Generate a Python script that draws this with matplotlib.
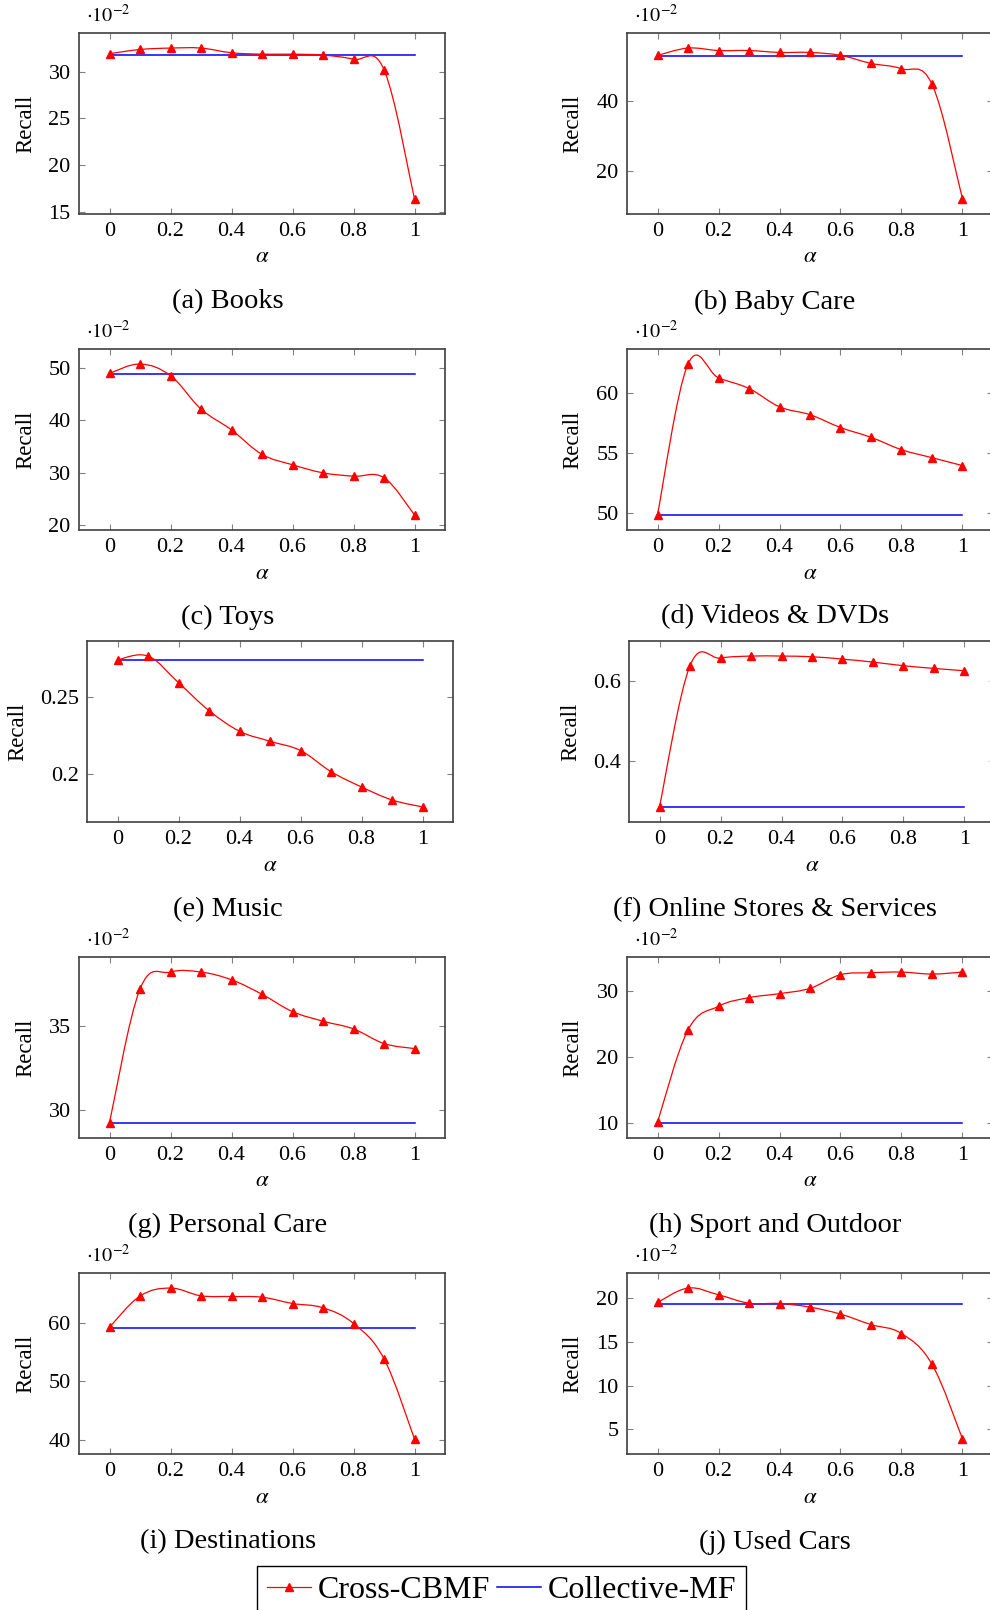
import matplotlib
matplotlib.use('Agg')
import matplotlib.pyplot as plt
from matplotlib.path import Path
from matplotlib.patches import PathPatch
from matplotlib.lines import Line2D

plt.rcParams['font.family'] = ['Liberation Serif', 'DejaVu Serif']
plt.rcParams['mathtext.fontset'] = 'stix'

# data (most panels are in units of 1e-2)
alpha = [0.0, 0.1, 0.2, 0.3, 0.4, 0.5, 0.6, 0.7, 0.8, 0.9, 1.0]
x_ticks = [0.0, 0.2, 0.4, 0.6, 0.8, 1.0]
x_ticklabels = ['0', '0.2', '0.4', '0.6', '0.8', '1']

books_cross = [31.9, 32.35, 32.5, 32.5, 32.0, 31.85, 31.85, 31.75, 31.3, 30.2, 16.4]
books_coll = 31.8
baby_cross = [53.2, 55.3, 54.6, 54.6, 54.05, 54.05, 53.2, 50.9, 49.35, 44.9, 11.9]
baby_coll = 53.0
toys_cross = [49.04, 50.83, 48.6, 42.2, 38.2, 33.5, 31.5, 29.95, 29.3, 29.0, 21.87]
toys_coll = 48.9
videos_cross = [49.83, 62.4, 61.25, 60.36, 58.83, 58.17, 57.1, 56.28, 55.25, 54.58, 53.92]
videos_coll = 49.8
music_cross = [0.2739, 0.2763, 0.2591, 0.2411, 0.2278, 0.2213, 0.2153, 0.2017, 0.1918, 0.1834, 0.1789]
music_coll = 0.2735
online_cross = [0.2845, 0.6386, 0.6578, 0.6628, 0.6628, 0.6611, 0.6552, 0.6477, 0.6386, 0.6318, 0.626]
online_coll = 0.284
personal_cross = [29.25, 37.19, 38.2, 38.2, 37.74, 36.88, 35.85, 35.28, 34.82, 33.95, 33.65]
personal_coll = 29.23
sport_cross = [10.15, 24.06, 27.64, 28.94, 29.55, 30.35, 32.4, 32.7, 32.8, 32.5, 32.8]
sport_coll = 10.05
dest_cross = [59.2, 64.49, 65.85, 64.54, 64.42, 64.3, 63.23, 62.5, 59.83, 53.83, 40.22]
dest_coll = 59.1
cars_cross = [19.54, 21.19, 20.42, 19.46, 19.42, 19.0, 18.2, 17.0, 15.97, 12.44, 3.88]
cars_coll = 19.42

titles = ['(a) Books', '(b) Baby Care', '(c) Toys', '(d) Videos & DVDs', '(e) Music',
          '(f) Online Stores & Services', '(g) Personal Care', '(h) Sport and Outdoor',
          '(i) Destinations', '(j) Used Cars']
cross = [books_cross, baby_cross, toys_cross, videos_cross, music_cross,
         online_cross, personal_cross, sport_cross, dest_cross, cars_cross]
coll = [books_coll, baby_coll, toys_coll, videos_coll, music_coll,
        online_coll, personal_coll, sport_coll, dest_coll, cars_coll]
scaled = [True, True, True, True, False, False, True, True, True, True]
y_ticks = [[15, 20, 25, 30], [20, 40], [20, 30, 40, 50], [50, 55, 60], [0.2, 0.25],
           [0.4, 0.6], [30, 35], [10, 20, 30], [40, 50, 60], [5, 10, 15, 20]]
y_ticklabels = [['15', '20', '25', '30'], ['20', '40'], ['20', '30', '40', '50'],
                ['50', '55', '60'], ['0.2', '0.25'], ['0.4', '0.6'], ['30', '35'],
                ['10', '20', '30'], ['40', '50', '60'], ['5', '10', '15', '20']]

W, H = 990, 1610
# axes boxes in pixels: left, top, right, bottom
boxes = [(79, 33, 445, 214), (627, 33, 993, 214),
         (79, 349, 445, 530), (627, 349, 993, 530),
         (87, 641, 453, 822), (629, 641, 995, 822),
         (79, 957, 445, 1138), (627, 957, 993, 1138),
         (79, 1273, 445, 1454), (627, 1273, 993, 1454)]
ylabel_x = [26, 573, 26, 573, 18, 571, 26, 573, 26, 573]
caption_y = [302, 302, 617, 617, 910, 910, 1225, 1225, 1542, 1542]
caption_x = [228, 775]


def smooth_path(xs, ys, k=0.183):
    # cubic bezier through the points, like pgfplots "smooth"
    pts = list(zip(xs, ys))
    verts = [pts[0]]
    codes = [Path.MOVETO]
    n = len(pts)
    for i in range(n - 1):
        p0 = pts[i - 1] if i > 0 else pts[i]
        p1 = pts[i]
        p2 = pts[i + 1]
        p3 = pts[i + 2] if i + 2 < n else pts[i + 1]
        c1 = (p1[0] + k * (p2[0] - p0[0]), p1[1] + k * (p2[1] - p0[1]))
        c2 = (p2[0] - k * (p3[0] - p1[0]), p2[1] - k * (p3[1] - p1[1]))
        verts += [c1, c2, p2]
        codes += [Path.CURVE4] * 3
    return Path(verts, codes)


fig = plt.figure(figsize=(W / 100, H / 100), dpi=100)

for i in range(10):
    l, t, r, b = boxes[i]
    ax = fig.add_axes([l / W, 1 - b / H, (r - l) / W, (b - t) / H])
    ys = cross[i]
    c = coll[i]
    ax.plot(alpha, [c] * len(alpha), color='blue', lw=1.1, zorder=2)
    ax.add_patch(PathPatch(smooth_path(alpha, ys), fill=False, edgecolor='red', lw=0.9, zorder=3))
    ax.plot(alpha, ys, linestyle='none', marker='^', color='red', markersize=6, zorder=4)

    lo = min(ys + [c])
    hi = max(ys + [c])
    rng = hi - lo
    ax.set_xlim(-0.1, 1.1)
    ax.set_ylim(lo - 0.1 * rng, hi + 0.1 * rng)
    ax.set_xticks(x_ticks)
    ax.set_xticklabels(x_ticklabels)
    ax.set_yticks(y_ticks[i])
    ax.set_yticklabels(y_ticklabels[i])
    ax.tick_params(direction='in', length=4.5, width=0.8, color='#808080',
                   top=True, right=True, labelsize=16, pad=6)
    for s in ax.spines.values():
        s.set_color('#404040')
        s.set_linewidth(1.2)

    ax.set_xlabel(r'$\alpha$', fontsize=16.5)
    ax.xaxis.set_label_coords(0.5, -43 / (b - t))
    ax.xaxis.label.set_verticalalignment('center')
    ax.set_ylabel('Recall', fontsize=16.5)
    ax.yaxis.set_label_coords((ylabel_x[i] - l) / (r - l), 0.5)
    ax.yaxis.label.set_verticalalignment('center')

    if scaled[i]:
        ax.annotate(r'$\cdot 10^{-2}$', xy=(0, 1), xycoords='axes fraction',
                    xytext=(5, 4), textcoords='offset points',
                    ha='left', va='bottom', fontsize=14.5)

    fig.text(caption_x[i % 2] / W, 1 - caption_y[i] / H, titles[i],
             ha='center', va='center', fontsize=20.5)

handles = [Line2D([], [], color='red', lw=0.9, marker='^', markersize=6),
           Line2D([], [], color='blue', lw=1.1)]
leg = fig.legend(handles, ['Cross-CBMF', 'Collective-MF'], loc='upper center',
                 bbox_to_anchor=(501.5 / W, 1 - 1566 / H), ncol=2, fontsize=23,
                 frameon=True, fancybox=False, edgecolor='black', framealpha=1,
                 borderaxespad=0, handlelength=1.4, handletextpad=0.2,
                 columnspacing=0.2, borderpad=0.3, numpoints=1)
leg.get_frame().set_linewidth(1.0)

fig.savefig('out.png', dpi=100)
